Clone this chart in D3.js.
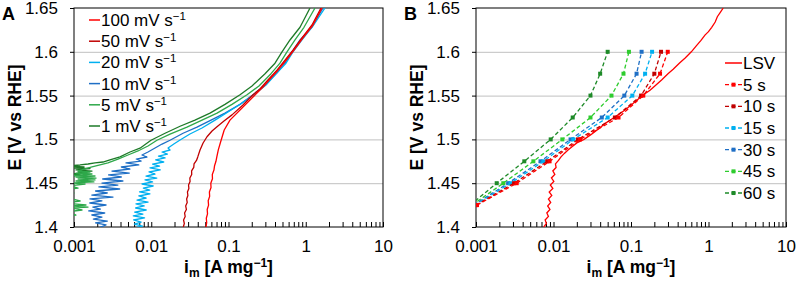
<!DOCTYPE html>
<html>
<head>
<meta charset="utf-8">
<script src="https://cdn.jsdelivr.net/npm/d3@7"></script>
<style>
body { margin: 0; background: #fff; }
text { font-family: "Liberation Sans", Arial, sans-serif; }
</style>
</head>
<body>
<div id="chart"></div>
<script>
// ---- panel A: CV at different scan rates, [i (A/mg), E (V)] ----
var rates = ["100", "50", "20", "10", "5", "1"];
var cvColors = ["#ff0000", "#c00000", "#00b0f0", "#1f6fc5", "#2ea84a", "#1e7a28"];

var cv100 = [[0.0511,1.400],[0.0522,1.405],[0.0516,1.41],[0.0535,1.415],[0.053,1.42],[0.0552,1.425],[0.0546,1.43],
  [0.057,1.435],[0.0566,1.44],[0.0594,1.445],[0.059,1.45],[0.062,1.455],[0.0617,1.46],[0.0648,1.465],[0.066,1.47],
  [0.0688,1.475],[0.0706,1.48],[0.0738,1.488],[0.079,1.497],[0.088,1.5107],[0.1045,1.522],[0.141,1.5336],
  [0.1897,1.545],[0.2317,1.5526],[0.282,1.560],[0.344,1.569],[0.437,1.579],[0.572,1.5918],[0.705,1.602],
  [0.921,1.6158],[1.241,1.6306],[1.623,1.65]];
var cv50 = [[0.026,1.400],[0.0268,1.404],[0.0262,1.408],[0.0275,1.412],[0.027,1.416],[0.0285,1.42],[0.0279,1.424],
  [0.0292,1.428],[0.0287,1.432],[0.0298,1.436],[0.0294,1.44],[0.0307,1.444],[0.0304,1.448],[0.0318,1.452],
  [0.0316,1.456],[0.0334,1.46],[0.0333,1.464],[0.0355,1.468],[0.0358,1.472],[0.0385,1.476],[0.040,1.48],
  [0.0428,1.4879],[0.0469,1.4959],[0.0527,1.503],[0.0612,1.5096],[0.071,1.5145],[0.0874,1.521],[0.111,1.528],
  [0.154,1.5393],[0.2076,1.551],[0.2557,1.5575],[0.324,1.5678],[0.4245,1.579],[0.555,1.5918],[0.684,1.602],
  [0.8945,1.6158],[1.205,1.6306],[1.576,1.65]];
var cv20 = [[1.775,1.650],[1.241,1.6295],[0.8945,1.6135],[0.684,1.600],[0.555,1.587],[0.4245,1.576],[0.306,1.562],
  [0.214,1.551],[0.1496,1.5416],[0.0985,1.5313],[0.0669,1.522],[0.0454,1.513],[0.0317,1.5062],[0.0236,1.4993],
  [0.0196,1.4947],[0.0165,1.4902],[0.0175,1.4879],[0.0138,1.4856],[0.0162,1.4833],[0.0124,1.481],[0.0151,1.4788],
  [0.0114,1.4765],[0.0145,1.4742],[0.0104,1.4719],[0.0128,1.4696],[0.00963,1.4674],[0.0131,1.4651],[0.00935,1.4628],
  [0.0112,1.4605],[0.00855,1.4582],[0.0118,1.4559],[0.0083,1.4537],[0.0104,1.4514],[0.00759,1.4491],[0.0106,1.4468],
  [0.0079,1.4445],[0.00955,1.4422],[0.00705,1.44],[0.00962,1.4377],[0.0069,1.4354],[0.0086,1.4331],[0.00654,1.4308],
  [0.0091,1.4285],[0.00634,1.4263],[0.0081,1.424],[0.00628,1.4217],[0.0086,1.4194],[0.0061,1.4171],[0.0078,1.4148],
  [0.00585,1.4126],[0.0082,1.4103],[0.0059,1.408],[0.0074,1.4057],[0.00605,1.4034],[0.0077,1.4011],[0.00634,1.3995]];
var cv10 = [[1.672,1.650],[1.205,1.628],[0.843,1.6135],[0.664,1.600],[0.539,1.587],[0.4245,1.576],[0.297,1.562],
  [0.2076,1.551],[0.141,1.540],[0.090,1.530],[0.0594,1.522],[0.0391,1.514],[0.0258,1.507],[0.0175,1.499],
  [0.0138,1.4947],[0.0112,1.4902],[0.00907,1.4856],[0.00759,1.4822],[0.0088,1.4799],[0.0064,1.4776],[0.0074,1.4753],
  [0.00471,1.4731],[0.0069,1.4708],[0.0041,1.4685],[0.0053,1.4662],[0.0031,1.4639],[0.0052,1.4616],[0.0028,1.4594],
  [0.0041,1.4571],[0.00235,1.4548],[0.0043,1.4525],[0.0023,1.4502],[0.0037,1.4479],[0.0021,1.4457],[0.0039,1.4434],
  [0.0019,1.4411],[0.0027,1.4388],[0.0017,1.4365],[0.0032,1.4342],[0.00161,1.432],[0.0023,1.4297],[0.0016,1.4274],
  [0.0026,1.4251],[0.00175,1.4228],[0.0022,1.4205],[0.00155,1.4183],[0.0025,1.416],[0.0017,1.4137],[0.0023,1.4114],
  [0.00178,1.4091],[0.0027,1.4068],[0.0019,1.4046],[0.0026,1.4023],[0.00215,1.3995]];
var cv5 = [[1.318,1.650],[0.949,1.628],[0.726,1.6135],[0.572,1.600],[0.464,1.587],[0.355,1.575],[0.248,1.561],
  [0.1736,1.551],[0.111,1.540],[0.071,1.530],[0.0454,1.522],[0.029,1.514],[0.0175,1.506],[0.01186,1.499],
  [0.00907,1.4925],[0.00673,1.4868],[0.005,1.4822],[0.00371,1.4776],[0.00275,1.4731],[0.00217,1.4708],[0.00171,1.4685],
  [0.00135,1.4662],[0.00113,1.4639],[0.00161,1.4628],[0.00106,1.4616],[0.00171,1.4605],[0.001,1.4588],[0.00187,1.4582],
  [0.00106,1.4571],[0.00193,1.4559],[0.00113,1.4548],[0.00187,1.4537],[0.00106,1.4525],[0.00181,1.4514],[0.000942,1.4502],
  [0.00139,1.4491],[0.000888,1.4468],[0.00113,1.4445],[0.00079,1.4422],[0.001,1.4388],[0.00074,1.4342],[0.0012,1.4297],
  [0.00079,1.4274],[0.00143,1.4251],[0.000888,1.424],[0.00152,1.4228],[0.000942,1.4217],[0.00127,1.4194],[0.00079,1.4171],
  [0.00106,1.4137],[0.0007,1.4103],[0.000888,1.4057],[0.00066,1.4011]];
var cv1 = [[1.135,1.650],[0.843,1.628],[0.625,1.6135],[0.493,1.600],[0.400,1.587],[0.297,1.575],[0.2015,1.561],
  [0.141,1.551],[0.090,1.540],[0.0576,1.530],[0.0368,1.522],[0.0236,1.515],[0.0151,1.507],[0.00992,1.499],
  [0.00715,1.490],[0.00531,1.4856],[0.00394,1.480],[0.00292,1.4765],[0.00237,1.4742],[0.00187,1.4731],[0.00152,1.4719],
  [0.0012,1.4708],[0.001,1.4702],[0.000888,1.4696],[0.00135,1.4685],[0.000942,1.4674],[0.00161,1.4668],[0.00106,1.4651],
  [0.00171,1.4639],[0.00113,1.4628],[0.00143,1.4616],[0.000888,1.4605],[0.0012,1.4594],[0.00079,1.4571],[0.00066,1.4514]];
var cvSeries = [cv100, cv50, cv20, cv10, cv5, cv1];

// ---- panel B: LSV and chronoamperometry steps ----
var lsv = [[0.0075,1.400],[0.0081,1.404],[0.0078,1.408],[0.0086,1.412],[0.0082,1.416],[0.009,1.42],[0.0084,1.424],
  [0.0092,1.428],[0.0086,1.432],[0.0095,1.436],[0.0088,1.44],[0.0098,1.444],[0.0091,1.448],[0.0101,1.452],[0.0094,1.456],
  [0.0104,1.46],[0.0098,1.464],[0.0108,1.468],[0.0106,1.472],[0.0116,1.476],[0.0125,1.48],[0.0138,1.484],[0.0154,1.488],
  [0.0175,1.492],[0.02,1.496],[0.0248,1.5],[0.031,1.506],[0.038,1.512],[0.046,1.518],[0.056,1.523],[0.068,1.528],
  [0.082,1.533],[0.1,1.539],[0.12,1.545],[0.145,1.551],[0.176,1.556],[0.21,1.562],[0.25,1.568],[0.3,1.575],[0.35,1.58],
  [0.42,1.587],[0.5,1.593],[0.6,1.6],[0.7,1.607],[0.8,1.613],[0.9,1.619],[1.0,1.623],[1.1,1.628],[1.22,1.634],
  [1.3,1.64],[1.42,1.645],[1.55,1.65]];
var stepE = [1.425, 1.45, 1.475, 1.5, 1.525, 1.55, 1.575, 1.6];
var hold5 = [0.00103, 0.00335, 0.0089, 0.022, 0.069, 0.144, 0.237, 0.298];
var hold10 = [0.00100, 0.0031, 0.0083, 0.0207, 0.062, 0.135, 0.200, 0.244];
var hold15 = [0.00096, 0.0028, 0.0074, 0.018, 0.050, 0.104, 0.152, 0.187];
var hold30 = [0.00093, 0.0026, 0.0068, 0.0166, 0.042, 0.082, 0.118, 0.137];
var hold45 = [0.00089, 0.00225, 0.0055, 0.013, 0.030, 0.056, 0.080, 0.094];
var hold60 = [0.00084, 0.00185, 0.0042, 0.0092, 0.0177, 0.030, 0.040, 0.050];
var holdSeries = [hold5, hold10, hold15, hold30, hold45, hold60];
var holdLabels = ["5 s", "10 s", "15 s", "30 s", "45 s", "60 s"];
var holdColors = ["#ff0000", "#c00000", "#00b0f0", "#1f6fc5", "#2ecc2e", "#1e8a28"];

// ---- axes ----
var yTicks = [1.4, 1.45, 1.5, 1.55, 1.6, 1.65];
var gridE = [1.45, 1.5, 1.55, 1.6];
var xDecades = [0.001, 0.01, 0.1, 1, 10];
var xTickLabels = ["0.001", "0.01", "0.1", "1", "10"];

var W = 796, H = 282, plotTop = 8, plotBottom = 227;
var fs = 17;

var svg = d3.select("#chart").append("svg")
    .attr("width", W)
    .attr("height", H);

function makePanel(x0, x1, letter) {
    var x = d3.scaleLog().domain([0.001, 10]).range([x0, x1]);
    var y = d3.scaleLinear().domain([1.4, 1.65]).range([plotBottom, plotTop]);

    svg.append("clipPath").attr("id", "clip" + letter)
        .append("rect")
        .attr("x", x0).attr("y", plotTop)
        .attr("width", x1 - x0).attr("height", plotBottom - plotTop);

    // grid
    svg.append("g")
        .attr("transform", "translate(" + x0 + ",0)")
        .call(d3.axisLeft(y).tickValues(gridE).tickSize(-(x1 - x0)).tickFormat(""))
        .call(function (g) { g.select(".domain").remove(); })
        .selectAll("line").attr("stroke", "#c0c0c0");

    // y axis
    var ya = svg.append("g")
        .attr("transform", "translate(" + x0 + ",0)")
        .call(d3.axisLeft(y).tickValues(yTicks).tickSize(4).tickPadding(12)
            .tickFormat(function (d) { return String(+d.toFixed(2)); }));
    ya.select(".domain").remove();
    ya.selectAll("text").attr("font-size", fs).attr("fill", "#000")
        .style("font-family", "'Liberation Sans', Arial, sans-serif");

    // x axis with log minor ticks
    var xt = [];
    xDecades.forEach(function (d, k) {
        if (k < xDecades.length - 1) {
            for (var m = 1; m < 10; m++) xt.push(d * m);
        } else xt.push(d);
    });
    var xa = svg.append("g")
        .attr("transform", "translate(0," + plotBottom + ")")
        .call(d3.axisBottom(x).tickValues(xt).tickSize(-5).tickPadding(13)
            .tickFormat(function (d) {
                var k = xDecades.findIndex(function (v) { return Math.abs(v - d) / v < 1e-6; });
                return k >= 0 ? xTickLabels[k] : "";
            }));
    xa.select(".domain").remove();
    xa.selectAll("text").attr("font-size", fs).attr("fill", "#000")
        .style("font-family", "'Liberation Sans', Arial, sans-serif");

    // frame
    svg.append("rect")
        .attr("x", x0).attr("y", plotTop)
        .attr("width", x1 - x0).attr("height", plotBottom - plotTop)
        .attr("fill", "none").attr("stroke", "#000").attr("stroke-width", 1);

    // titles
    svg.append("text")
        .attr("x", x0 - 72).attr("y", 20)
        .attr("font-size", 18).attr("font-weight", "bold")
        .text(letter);

    svg.append("text")
        .attr("transform", "translate(" + (x0 - 53) + "," + ((plotTop + plotBottom) / 2) + ") rotate(-90)")
        .attr("text-anchor", "middle")
        .attr("font-size", 17.5).attr("font-weight", "bold")
        .text("E [V vs RHE]");

    var xt2 = svg.append("text")
        .attr("x", (x0 + x1) / 2).attr("y", 273)
        .attr("text-anchor", "middle")
        .attr("font-size", 17.5).attr("font-weight", "bold");
    xt2.append("tspan").text("i");
    xt2.append("tspan").attr("dy", 4).attr("font-size", 12).text("m");
    xt2.append("tspan").attr("dy", -4).text(" [A mg");
    xt2.append("tspan").attr("dy", -6).attr("font-size", 12).text("\u22121");
    xt2.append("tspan").attr("dy", 6).text("]");

    var plot = svg.append("g").attr("clip-path", "url(#clip" + letter + ")");
    return { x: x, y: y, plot: plot };
}

// ---- panel A ----
var A = makePanel(74, 383, "A");
var lineA = d3.line()
    .x(function (d) { return A.x(d[0]); })
    .y(function (d) { return A.y(d[1]); });

for (var k = cvSeries.length - 1; k >= 0; k--) {
    A.plot.append("path")
        .attr("d", lineA(cvSeries[k]))
        .attr("fill", "none")
        .attr("stroke", cvColors[k])
        .attr("stroke-width", 1.3)
        .attr("stroke-linejoin", "round");
}

rates.forEach(function (r, k) {
    var yy = 20 + k * 21.2;
    svg.append("line")
        .attr("x1", 89).attr("x2", 100).attr("y1", yy).attr("y2", yy)
        .attr("stroke", cvColors[k]).attr("stroke-width", 1.5);
    var t = svg.append("text").attr("x", 101).attr("y", yy + 6).attr("font-size", fs);
    t.append("tspan").text(r + " mV s");
    t.append("tspan").attr("dy", -6).attr("font-size", 11.5).text("\u22121");
});

// ---- panel B ----
var B = makePanel(476, 786, "B");
var lineB = d3.line()
    .x(function (d) { return B.x(d[0]); })
    .y(function (d) { return B.y(d[1]); });

B.plot.append("path")
    .attr("d", lineB(lsv))
    .attr("fill", "none")
    .attr("stroke", "#ff0000")
    .attr("stroke-width", 1.3);

for (var h = holdSeries.length - 1; h >= 0; h--) {
    var pts = holdSeries[h].map(function (v, j) { return [v, stepE[j]]; });
    B.plot.append("path")
        .attr("d", lineB(pts))
        .attr("fill", "none")
        .attr("stroke", holdColors[h])
        .attr("stroke-width", 1.3)
        .attr("stroke-dasharray", "4,2.5");
    B.plot.selectAll(null).data(pts).enter()
        .append("rect")
        .attr("x", function (d) { return B.x(d[0]) - 2; })
        .attr("y", function (d) { return B.y(d[1]) - 2; })
        .attr("width", 4).attr("height", 4)
        .attr("fill", holdColors[h]);
}

// legend B
var legY = function (k) { return 63 + k * 21.67; };
svg.append("line")
    .attr("x1", 725).attr("x2", 742).attr("y1", legY(0)).attr("y2", legY(0))
    .attr("stroke", "#ff0000").attr("stroke-width", 1.5);
svg.append("text").attr("x", 743).attr("y", legY(0) + 6).attr("font-size", fs).text("LSV");
holdLabels.forEach(function (lab, k) {
    var yy = legY(k + 1);
    svg.append("line")
        .attr("x1", 725).attr("x2", 742).attr("y1", yy).attr("y2", yy)
        .attr("stroke", holdColors[k]).attr("stroke-width", 1.3)
        .attr("stroke-dasharray", "4,2.5");
    svg.append("rect")
        .attr("x", 731.5).attr("y", yy - 2).attr("width", 4).attr("height", 4)
        .attr("fill", holdColors[k]);
    svg.append("text").attr("x", 743).attr("y", yy + 6).attr("font-size", fs).text(lab);
});
</script>
</body>
</html>
